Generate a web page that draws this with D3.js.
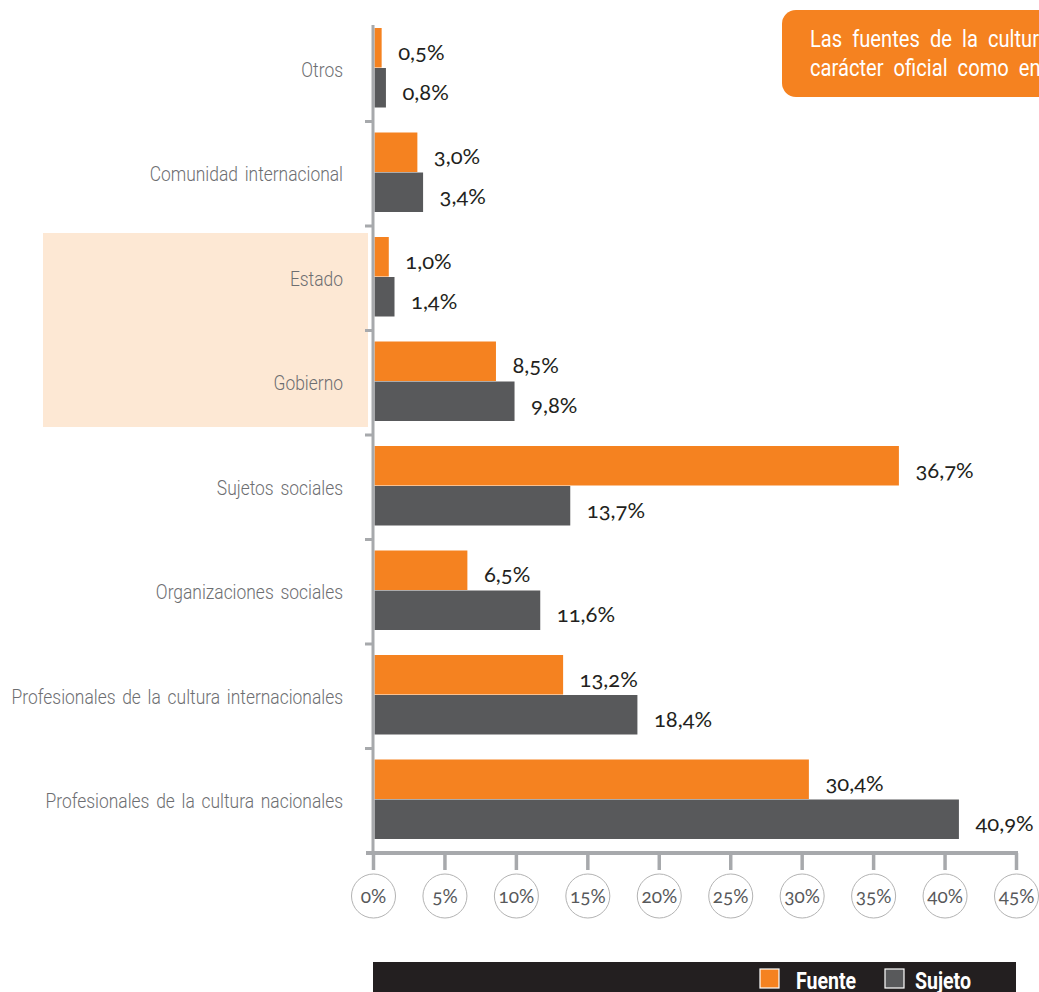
<!DOCTYPE html>
<html>
<head>
<meta charset="utf-8">
<script src="https://cdn.jsdelivr.net/npm/d3@7"></script>
<style>
  html, body { margin: 0; padding: 0; background: #fff; }
  svg { display: block; }
  .cat { font-family: "Roboto", "Liberation Sans", sans-serif; }
  .num { font-family: "Lato", "Open Sans", sans-serif; font-variant-numeric: oldstyle-nums; }
</style>
</head>
<body>
<svg id="chart" width="1039" height="992"></svg>
<script>
// Categories, top to bottom
const categories = [
  "Otros",
  "Comunidad internacional",
  "Estado",
  "Gobierno",
  "Sujetos sociales",
  "Organizaciones sociales",
  "Profesionales de la cultura internacionales",
  "Profesionales de la cultura nacionales"
];
// Percentages per category
const fuente = [0.5, 3.0, 1.0, 8.5, 36.7, 6.5, 13.2, 30.4];
const sujeto = [0.8, 3.4, 1.4, 9.8, 13.7, 11.6, 18.4, 40.9];
const seriesNames = ["Fuente", "Sujeto"];
const tickValues = [0, 5, 10, 15, 20, 25, 30, 35, 40, 45];
const highlighted = ["Estado", "Gobierno"];
const calloutLines = ["Las fuentes de la cultura de", "carácter oficial como entes públicos"];

const ORANGE = "#f58220", GRAY = "#58595b", AXIS = "#a7a9ac";
const colors = { Fuente: ORANGE, Sujeto: GRAY };
const fmt = v => d3.format(".1f")(v).replace(".", ",") + "%";
const NARROW = 0.83; // horizontal squeeze for the condensed captions

const svg = d3.select("#chart");

const x = d3.scaleLinear().domain([0, 45]).range([373, 1016]);
const y = d3.scaleBand().domain(categories).range([17, 853]);
const ySub = d3.scaleBand().domain(seriesNames).range([11, 91]);

const rows = categories.map((c, i) => ({ cat: c, Fuente: fuente[i], Sujeto: sujeto[i] }));

// Highlight band behind the government-related categories
svg.append("rect")
  .attr("x", 43)
  .attr("y", y(highlighted[0]) + 7)
  .attr("width", 325)
  .attr("height", y(highlighted[1]) + y.bandwidth() - y(highlighted[0]) - 15)
  .attr("fill", "#fde8d4");

// Category labels (condensed)
svg.append("g").selectAll("text")
  .data(categories)
  .join("text")
  .attr("class", "cat")
  .attr("transform", d => `translate(343,${y(d) + y.bandwidth() / 2}) scale(${NARROW},1)`)
  .attr("dy", "0.35em")
  .attr("text-anchor", "end")
  .attr("font-size", 21)
  .attr("font-weight", 300)
  .attr("word-spacing", 3)
  .attr("fill", "#6d6e71")
  .text(d => d);

// Bars and value labels
const groups = svg.append("g").selectAll("g")
  .data(rows)
  .join("g")
  .attr("transform", d => `translate(0,${y(d.cat)})`);

groups.selectAll("rect")
  .data(d => seriesNames.map(s => ({ s, v: d[s] })))
  .join("rect")
  .attr("x", x(0) + 1.5)
  .attr("y", d => ySub(d.s))
  .attr("width", d => x(d.v) - x(0))
  .attr("height", ySub.bandwidth() - 0.5)
  .attr("fill", d => colors[d.s]);

groups.selectAll("text")
  .data(d => seriesNames.map(s => ({ s, v: d[s] })))
  .join("text")
  .attr("class", "num")
  .attr("x", d => x(d.v) + 18)
  .attr("y", d => ySub(d.s) + ySub.bandwidth() / 2 + 4)
  .attr("dy", "0.35em")
  .attr("font-size", 22)
  .attr("fill", "#231f20")
  .text(d => fmt(d.v));

// Vertical axis with tick marks at category boundaries
svg.append("line")
  .attr("x1", 373).attr("x2", 373)
  .attr("y1", 25).attr("y2", 853)
  .attr("stroke", AXIS).attr("stroke-width", 3);
svg.append("g").selectAll("line")
  .data(categories.slice(1))
  .join("line")
  .attr("x1", 365).attr("x2", 373)
  .attr("y1", d => y(d)).attr("y2", d => y(d))
  .attr("stroke", AXIS).attr("stroke-width", 3);

// Horizontal axis
svg.append("line")
  .attr("x1", 366).attr("x2", x(45) + 2)
  .attr("y1", 853).attr("y2", 853)
  .attr("stroke", AXIS).attr("stroke-width", 4);

const xAxis = svg.append("g")
  .attr("transform", "translate(0,853)")
  .call(d3.axisBottom(x).tickValues(tickValues).tickSize(17).tickFormat(d => d + "%"));
xAxis.select(".domain").remove();
xAxis.selectAll(".tick line").attr("stroke", AXIS).attr("stroke-width", 3.5);
xAxis.selectAll(".tick").insert("circle", "text")
  .attr("cx", 0).attr("cy", 43).attr("r", 22)
  .attr("fill", "#fff").attr("stroke", "#b3b3b3").attr("stroke-width", 1);
xAxis.selectAll(".tick text")
  .attr("class", "num")
  .attr("y", 43).attr("dy", "0.35em")
  .attr("font-size", 19)
  .attr("fill", "#58595b");

// Callout box
const callout = svg.append("g");
callout.append("rect")
  .attr("x", 782).attr("y", 10)
  .attr("width", 320).attr("height", 87)
  .attr("rx", 14)
  .attr("fill", ORANGE);
callout.selectAll("text")
  .data(calloutLines)
  .join("text")
  .attr("class", "cat")
  .attr("transform", (d, i) => `translate(810,${47 + i * 29}) scale(0.84,1)`)
  .attr("font-size", 24)
  .attr("word-spacing", 6)
  .attr("fill", "#fff")
  .text(d => d);

// Legend strip
const legend = svg.append("g");
legend.append("rect")
  .attr("x", 373).attr("y", 962)
  .attr("width", 643).attr("height", 40)
  .attr("fill", "#231f20");
const legendItems = legend.selectAll("g")
  .data(seriesNames)
  .join("g")
  .attr("transform", (d, i) => `translate(${[760, 885][i]},0)`);
legendItems.append("rect")
  .attr("x", 0).attr("y", 969)
  .attr("width", 19).attr("height", 19)
  .attr("fill", d => colors[d])
  .attr("stroke", "#fff").attr("stroke-width", 1.2);
legendItems.append("text")
  .attr("class", "cat")
  .attr("transform", (d, i) => `translate(${[36, 30][i]},989) scale(0.85,1)`)
  .attr("font-size", 23)
  .attr("font-weight", "bold")
  .attr("fill", "#fff")
  .text(d => d);
</script>
</body>
</html>
